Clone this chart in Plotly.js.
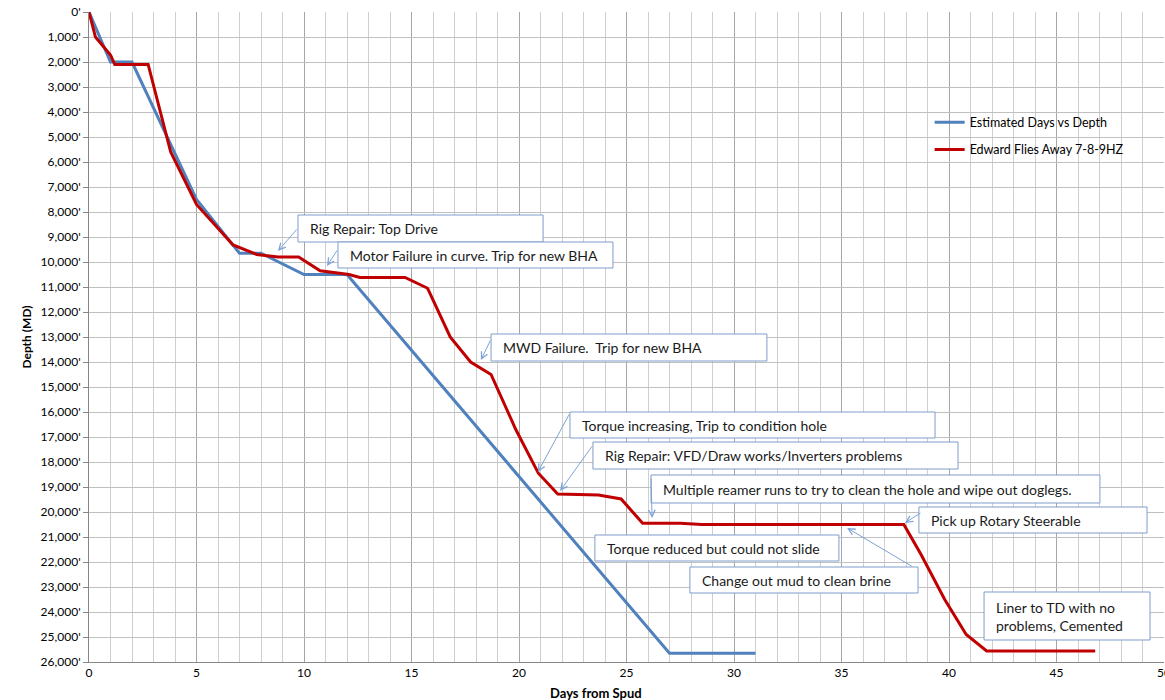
<!DOCTYPE html>
<html>
<head>
<meta charset="utf-8">
<script src="https://cdn.plot.ly/plotly-3.0.1.min.js"></script>
<style>html,body{margin:0;padding:0;background:#fff;}#chart{width:1165px;height:700px;}</style>
</head>
<body>
<div id="chart"></div>
<script>
// Estimated Days vs Depth
const estDays  = [0, 1, 2, 5, 7, 8, 10, 12, 27, 31];
const estDepth = [0, 2000, 2000, 7500, 9650, 9650, 10500, 10500, 25650, 25650];

// Edward Flies Away 7-8-9HZ (actual)
const actDays  = [0, 0.3, 1.0, 1.2, 2.75, 3.8, 5, 6.7, 7.8, 8.8, 9.75, 10.75, 12.1, 12.6, 14.7, 15.75, 16.8, 17.75, 18.7, 19.85, 20.9, 21.8, 23.7, 24.75, 25.75, 27.5, 28.5, 37.9, 38.7, 39.8, 40.8, 41.75, 46.8];
const actDepth = [0, 1000, 1720, 2100, 2100, 5600, 7700, 9320, 9700, 9800, 9800, 10350, 10500, 10620, 10620, 11050, 13000, 14000, 14500, 16700, 18450, 19280, 19320, 19480, 20450, 20450, 20500, 20500, 21700, 23500, 24900, 25560, 25560];

const seriesNames = ["Estimated Days vs Depth", "Edward Flies Away 7-8-9HZ"];

// Y tick labels
const depthTicks = [];
const depthLabels = [];
for (let d = 0; d <= 26000; d += 1000) {
  depthTicks.push(d);
  depthLabels.push(d.toLocaleString('en-US') + "'");
}
const dayTicks = [0, 5, 10, 15, 20, 25, 30, 35, 40, 45, 50];

// Callout texts: [text, box left day, box top depth, box right day, box bottom depth]
const callouts = [
  ["Rig Repair: Top Drive",                                               9.72, 8120, 21.12, 9200],
  ["Motor Failure in curve. Trip for new BHA",                            11.58, 9200, 24.37, 10240],
  ["MWD Failure.  Trip for new BHA",                                      18.70, 12880, 31.53, 13960],
  ["Torque increasing, Trip to condition hole",                           22.37, 16000, 39.35, 17040],
  ["Rig Repair: VFD/Draw works/Inverters problems",                       23.44, 17200, 40.42, 18280],
  ["Multiple reamer runs to try to clean the hole and wipe out doglegs.", 26.14, 18520, 47.02, 19640],
  ["Pick up Rotary Steerable",                                            38.60, 19800, 49.21, 20840],
  ["Torque reduced but could not slide",                                  23.53, 20920, 34.88, 21960],
  ["Change out mud to clean brine",                                       27.95, 22200, 38.56, 23240],
  ["Liner to TD with no<br>problems, Cemented",                           41.63, 23200, 49.35, 25120]
];

// Arrows: [tip day, tip depth, tail day, tail depth]
const arrows = [
  [8.79, 9560, 9.72, 8640],
  [11.07, 10160, 11.58, 9480],
  [18.23, 13920, 18.70, 13080],
  [20.88, 18400, 22.37, 16040],
  [21.91, 19160, 23.44, 17320],
  [26.19, 20240, 26.14, 18600],
  [37.95, 20440, 38.74, 20000],
  [35.26, 20640, 38.33, 22200]
];

const FONT = "Lato, 'Open Sans', sans-serif";

const traces = [
  {x: estDays, y: estDepth, name: seriesNames[0], mode: 'lines', legendgroup: 'a',
   line: {color: '#4F81BD', width: 3}},
  {x: actDays, y: actDepth, name: seriesNames[1], mode: 'lines', legendgroup: 'b',
   line: {color: '#C00000', width: 3}}
];

const shapes = callouts.map(c => ({
  type: 'rect', xref: 'x', yref: 'y', layer: 'above',
  x0: c[1], x1: c[3], y0: c[2], y1: c[4],
  fillcolor: '#ffffff', line: {color: '#7F9DC9', width: 1}
}));

const annotations = [];
arrows.forEach(a => annotations.push({
  x: a[0], y: a[1], ax: a[2], ay: a[3], axref: 'x', ayref: 'y', xref: 'x', yref: 'y',
  text: '', showarrow: true, arrowhead: 5, arrowsize: 1.3, arrowwidth: 1, arrowcolor: '#7DA3D6'
}));
callouts.forEach(c => annotations.push({
  x: c[1], y: (c[2] + c[4]) / 2, xref: 'x', yref: 'y', xanchor: 'left', yanchor: 'middle',
  xshift: 10, text: c[0], showarrow: false, align: 'left',
  font: {family: FONT, size: 14, color: '#1a1a1a'}
}));
annotations.push({
  x: (596 - 89) / 1075, y: 0, xref: 'paper', yref: 'paper', yanchor: 'top', yshift: -21,
  text: '<b>Days from Spud</b>', showarrow: false, font: {family: FONT, size: 13, color: '#000'}
});

const layout = {
  width: 1165, height: 700,
  margin: {l: 89, r: 1, t: 12, b: 38},
  paper_bgcolor: '#fff', plot_bgcolor: '#fff',
  font: {family: FONT, size: 12, color: '#000'},
  showlegend: true,
  legend: {x: 0.782, y: 0.853, xanchor: 'left', yanchor: 'top', bgcolor: 'rgba(0,0,0,0)',
           font: {family: FONT, size: 12.5, color: '#000'}, tracegroupgap: 8, traceorder: 'grouped'},
  xaxis: {
    range: [0, 50], tickvals: dayTicks, ticktext: dayTicks.map(String),
    showgrid: true, gridcolor: '#a6a6a6', gridwidth: 1,
    minor: {dtick: 1, tick0: 0, showgrid: true, gridcolor: '#cfcfcf', gridwidth: 1},
    zeroline: false, showline: true, linecolor: '#868686', linewidth: 1,
    ticks: '', ticklabeloverflow: 'allow', tickfont: {family: FONT, size: 12, color: '#000'}
  },
  yaxis: {
    range: [26000, 0], tickvals: depthTicks, ticktext: depthLabels,
    showgrid: true, gridcolor: '#c0c0c0', gridwidth: 1,
    zeroline: false, showline: true, linecolor: '#868686', linewidth: 1,
    ticks: 'outside', ticklen: 5, tickcolor: '#868686',
    tickfont: {family: FONT, size: 12, color: '#000'},
    title: {text: '<b>Depth (MD)</b>', font: {family: FONT, size: 12, color: '#000'}, standoff: 6}
  },
  shapes: shapes,
  annotations: annotations
};

Plotly.newPlot('chart', traces, layout, {displayModeBar: false, staticPlot: true});
</script>
</body>
</html>
